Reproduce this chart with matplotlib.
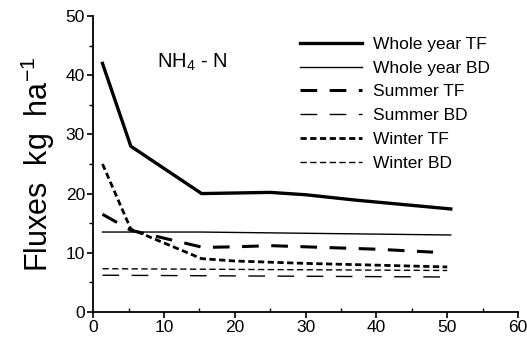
import matplotlib
matplotlib.use("Agg")
import matplotlib.pyplot as plt
from matplotlib.ticker import MultipleLocator

plt.rcParams['font.family'] = ['Liberation Sans', 'DejaVu Sans']
plt.rcParams['mathtext.default'] = 'regular'
plt.rcParams['lines.scale_dashes'] = False

# data
wy_tf_x = [1.3, 5.3, 15.3, 25, 30, 37, 50.5]
wy_tf_y = [42, 28, 20, 20.2, 19.8, 18.9, 17.4]
wy_bd_x = [1.3, 15, 50.5]
wy_bd_y = [13.5, 13.5, 13.0]
su_tf_x = [1.3, 5.3, 15.5, 20, 25, 30, 35, 40, 48]
su_tf_y = [16.5, 13.8, 10.9, 11.0, 11.2, 11.0, 10.8, 10.6, 10.1]
su_bd_x = [1.3, 50]
su_bd_y = [6.2, 5.9]
wi_tf_x = [1.3, 5.3, 15.3, 20, 30, 40, 50]
wi_tf_y = [25, 14, 9, 8.6, 8.2, 7.9, 7.6]
wi_bd_x = [1.3, 50]
wi_bd_y = [7.3, 7.0]

fig = plt.figure(figsize=(5.27, 3.42), dpi=100)
ax = fig.add_axes([0.177, 0.088, 0.806, 0.865])

ax.plot(wy_tf_x, wy_tf_y, color='k', lw=2.4, label='Whole year TF')
ax.plot(wy_bd_x, wy_bd_y, color='k', lw=1.0, label='Whole year BD')
ax.plot(su_tf_x, su_tf_y, color='k', lw=2.2, dashes=(12, 9), label='Summer TF')
ax.plot(su_bd_x, su_bd_y, color='k', lw=1.0, dashes=(12, 9), label='Summer BD')
ax.plot(wi_tf_x, wi_tf_y, color='k', lw=2.0, dashes=(4.5, 2.5), label='Winter TF')
ax.plot(wi_bd_x, wi_bd_y, color='k', lw=1.0, dashes=(4.5, 2.5), label='Winter BD')

ax.set_xlim(0, 60)
ax.set_ylim(0, 50)
ax.xaxis.set_major_locator(MultipleLocator(10))
ax.xaxis.set_minor_locator(MultipleLocator(5))
ax.yaxis.set_major_locator(MultipleLocator(10))
ax.yaxis.set_minor_locator(MultipleLocator(5))
ax.tick_params(which='major', direction='out', length=4, width=1.2, labelsize=12.5, pad=2)
ax.tick_params(axis='x', which='minor', direction='in', length=3, width=1)
ax.tick_params(axis='y', which='minor', direction='out', length=3, width=1)
for s in ['top', 'right']:
    ax.spines[s].set_visible(False)
for s in ['left', 'bottom']:
    ax.spines[s].set_linewidth(1.3)

ax.set_ylabel('Fluxes  kg  ha$^{-1}$', fontsize=22, labelpad=6)
ax.text(9, 41.3, 'NH$_4$ - N', fontsize=14.5)

ax.legend(loc='upper left', bbox_to_anchor=(0.569, 0.893), bbox_transform=fig.transFigure,
          frameon=False, fontsize=12.5, handlelength=3.6, handletextpad=0.6,
          labelspacing=0.5, borderpad=0, borderaxespad=0)

fig.savefig('out.png', dpi=100)
